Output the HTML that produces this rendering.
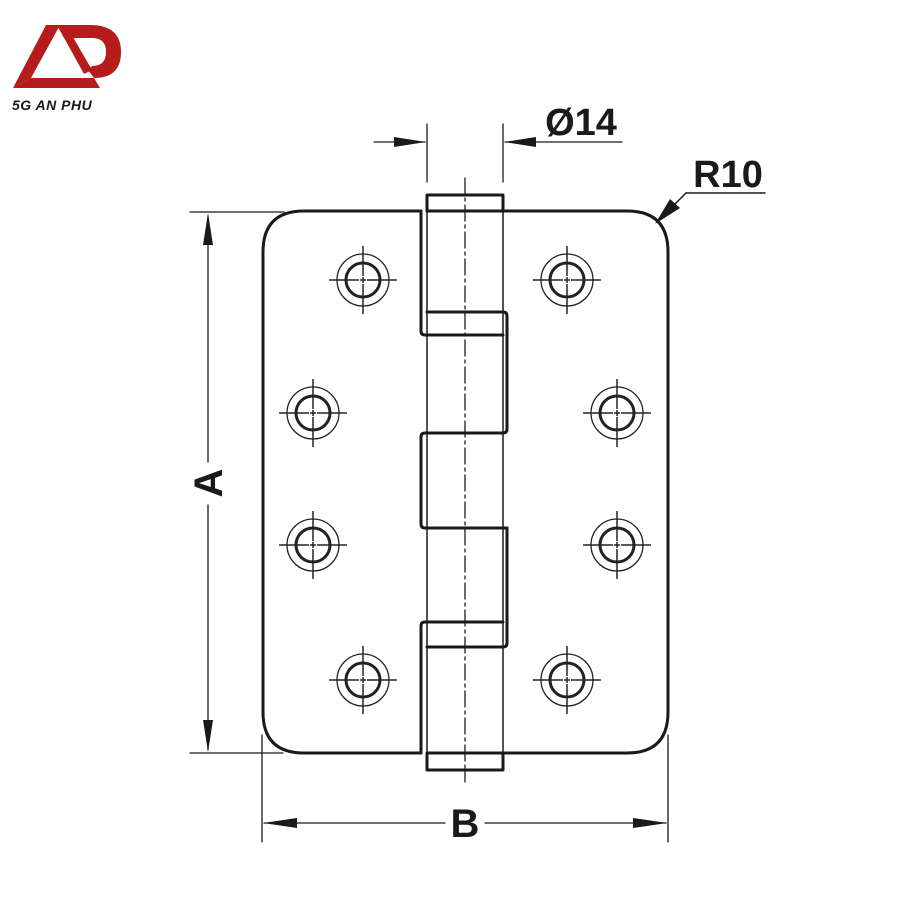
<!DOCTYPE html>
<html><head><meta charset="utf-8"><style>
html,body{margin:0;padding:0;background:#fff;}
svg{display:block;}
text{font-family:"Liberation Sans",Arial,sans-serif;font-weight:bold;fill:#1a1a1a;}
</style></head><body>
<svg width="900" height="900" viewBox="0 0 900 900" xmlns="http://www.w3.org/2000/svg">
<defs>
<g id="hole">
<circle r="26" fill="none" stroke="#222" stroke-width="1.3"/>
<circle r="17" fill="none" stroke="#222" stroke-width="3"/>
<line x1="-34" y1="0" x2="-4" y2="0" stroke="#222" stroke-width="1.5"/>
<line x1="4" y1="0" x2="34" y2="0" stroke="#222" stroke-width="1.5"/>
<line x1="0" y1="-34" x2="0" y2="-4" stroke="#222" stroke-width="1.5"/>
<line x1="0" y1="4" x2="0" y2="34" stroke="#222" stroke-width="1.5"/>
<line x1="-3" y1="0" x2="3" y2="0" stroke="#222" stroke-width="1.5"/>
<line x1="0" y1="-3" x2="0" y2="3" stroke="#222" stroke-width="1.5"/>
</g>
</defs>
<!-- logo -->
<g fill="#b71c1c">
<polygon points="13,88 46,25 60,25 31,78"/>
<polygon points="13,88 31,78 94,78 100,88"/>
<path d="M57,25 L90,25 Q121,25 121,52 Q121,78 94,78 L88,70 L92,66 Q106,66 106,52 Q106,38 92,38 L64,38 Z"/>
<polygon points="57,25 66,25 92,70 84,74"/>
</g>
<text x="12" y="110" font-size="14" font-style="italic" style="font-weight:bold;letter-spacing:0.5px">5G AN PHU</text>

<g fill="none" stroke="#1a1a1a" stroke-linecap="round" stroke-linejoin="round">
<path d="M421,211 L304,211 Q263,211 263,252 L263,712 Q263,753 304,753 L421,753" stroke-width="3"/>
<path d="M503,211 L627,211 Q668,211 668,252 L668,712 Q668,753 627,753 L503,753" stroke-width="3"/>
<rect x="427" y="195" width="76" height="16" stroke-width="3"/>
<rect x="427" y="753" width="76" height="17" stroke-width="3"/>
<path d="M421,211 L421,331 Q421,335 425,335 L503,335" stroke-width="3"/>
<path d="M503,433 L425,433 Q421,433 421,437 L421,524 Q421,528 425,528 L507,528" stroke-width="3"/>
<path d="M503,622 L425,622 Q421,622 421,626 L421,753" stroke-width="3"/>
<path d="M427,312 L503,312 Q507,312 507,316 L507,429 Q507,433 503,433" stroke-width="3"/>
<path d="M507,528 L507,643 Q507,647 503,647 L427,647" stroke-width="3"/>
<line x1="427" y1="211" x2="427" y2="753" stroke-width="1.5"/>
<line x1="503" y1="211" x2="503" y2="753" stroke-width="1.5"/>
<line x1="465" y1="178" x2="465" y2="782" stroke-width="1.3" stroke-dasharray="16,4,3,4"/>

<line x1="190" y1="212" x2="284" y2="212" stroke-width="1.3"/>
<line x1="190" y1="753" x2="283" y2="753" stroke-width="1.3"/>
<line x1="208" y1="216" x2="208" y2="462" stroke-width="1.3"/>
<line x1="208" y1="505" x2="208" y2="750" stroke-width="1.3"/>
<line x1="262" y1="735" x2="262" y2="842" stroke-width="1.3"/>
<line x1="668" y1="735" x2="668" y2="842" stroke-width="1.3"/>
<line x1="264" y1="823" x2="445" y2="823" stroke-width="1.3"/>
<line x1="485" y1="823" x2="666" y2="823" stroke-width="1.3"/>
<line x1="427" y1="124" x2="427" y2="182" stroke-width="1.3"/>
<line x1="503" y1="124" x2="503" y2="182" stroke-width="1.3"/>
<line x1="374" y1="142" x2="425" y2="142" stroke-width="1.3"/>
<line x1="505" y1="142" x2="622" y2="142" stroke-width="1.3"/>
<line x1="686" y1="193" x2="765" y2="193" stroke-width="1.5"/>
<line x1="686" y1="193" x2="660" y2="219" stroke-width="1.5"/>
</g>
<g fill="#1a1a1a">
<polygon points="208,213 203,245 213,245"/>
<polygon points="208,752 203,720 213,720"/>
<polygon points="263,823 297,818 297,828"/>
<polygon points="667,823 633,818 633,828"/>
<polygon points="426,142 394,137 394,147"/>
<polygon points="504,142 536,137 536,147"/>
<polygon points="655,224 670,199 680,208"/>
</g>
<use href="#hole" x="363" y="280"/>
<use href="#hole" x="567" y="280"/>
<use href="#hole" x="313" y="413"/>
<use href="#hole" x="617" y="413"/>
<use href="#hole" x="313" y="545"/>
<use href="#hole" x="617" y="545"/>
<use href="#hole" x="363" y="680"/>
<use href="#hole" x="567" y="680"/>

<text x="581" y="135" font-size="38" text-anchor="middle">Ø14</text>
<text x="728" y="187" font-size="38" text-anchor="middle">R10</text>
<text x="465" y="837" font-size="40" text-anchor="middle">B</text>
<text transform="translate(222,483) rotate(-90)" font-size="40" text-anchor="middle">A</text>
</svg>
</body></html>
